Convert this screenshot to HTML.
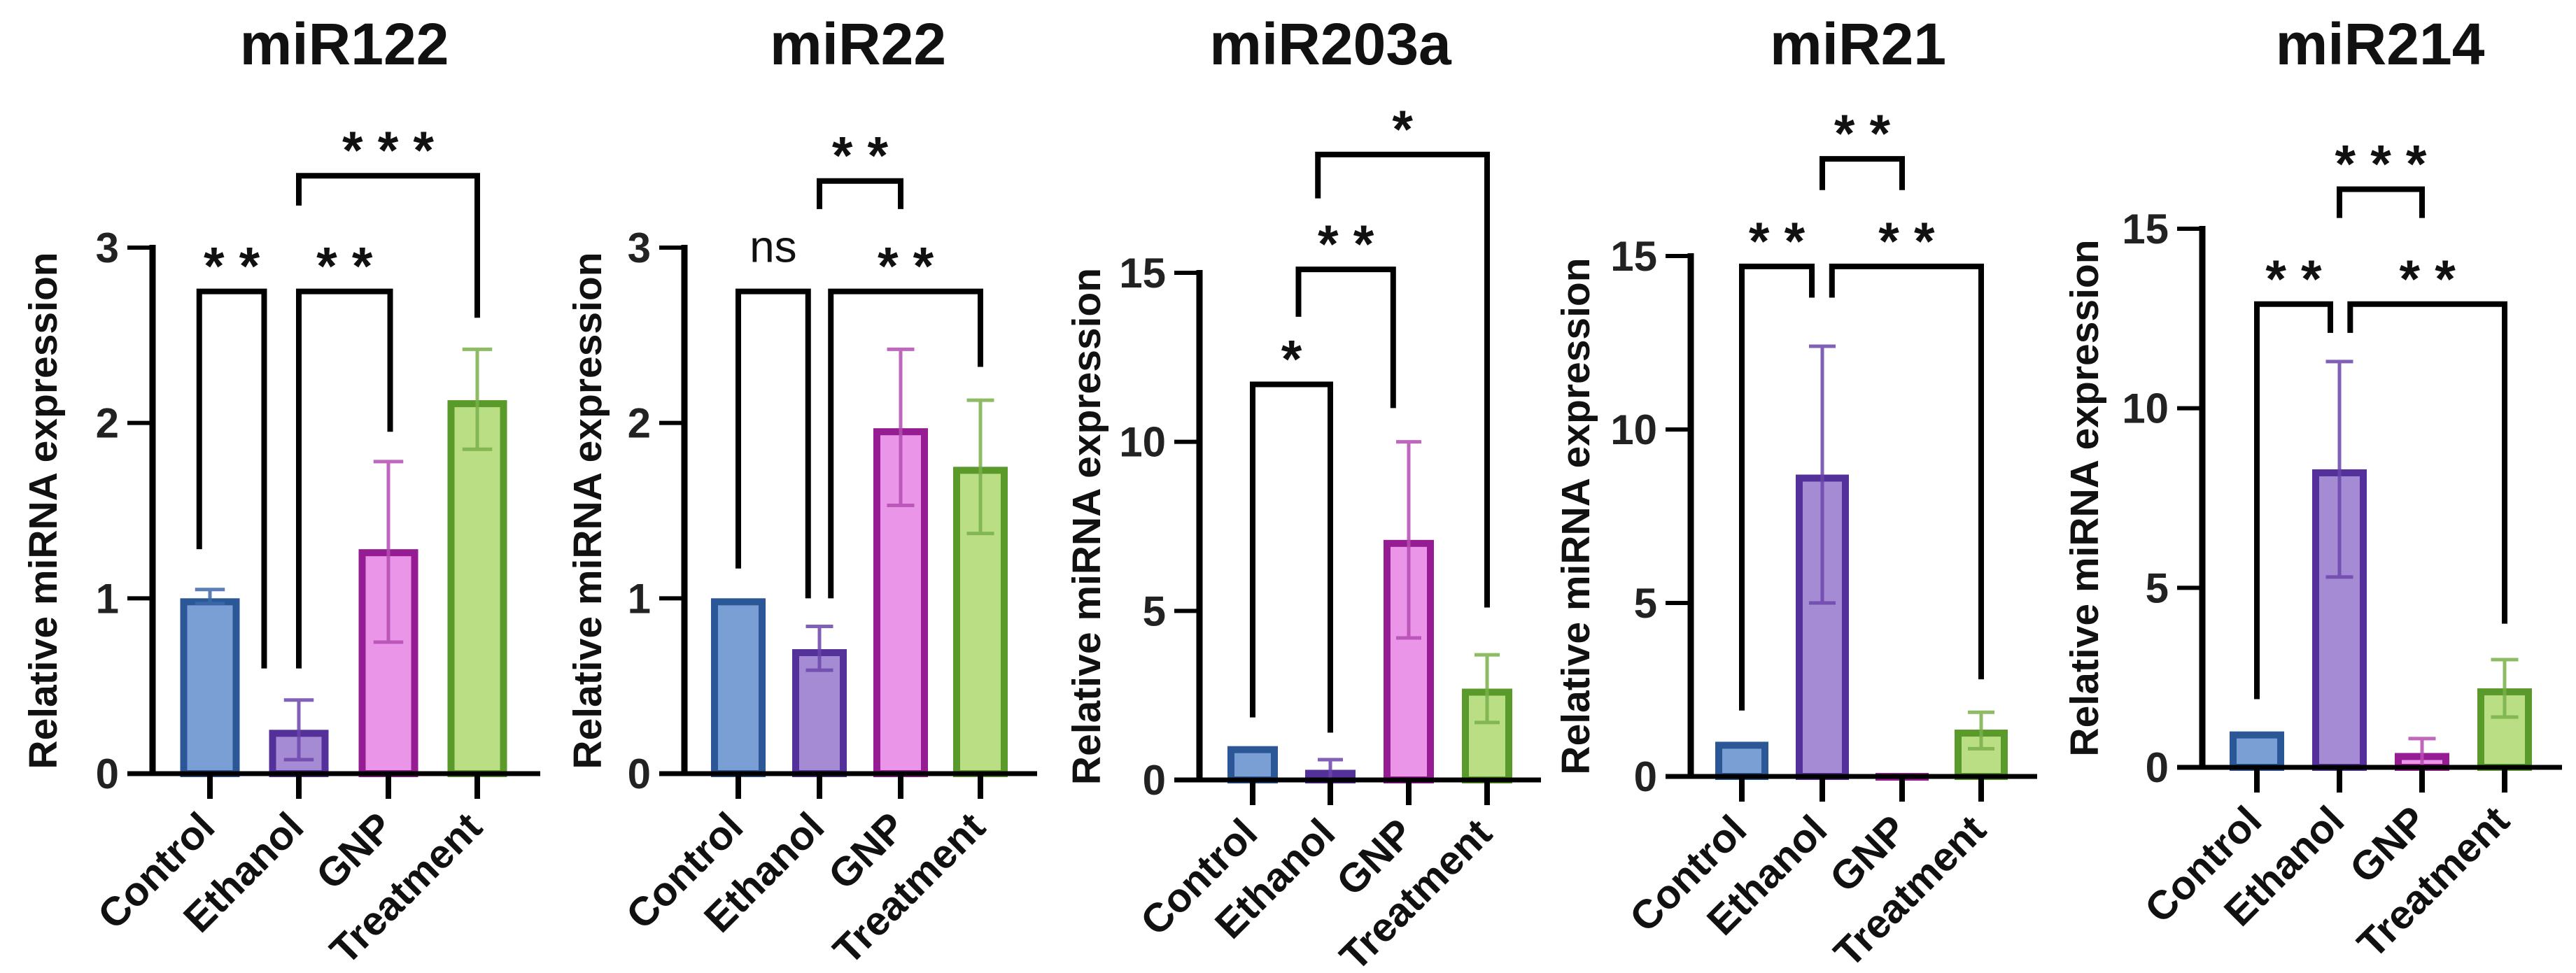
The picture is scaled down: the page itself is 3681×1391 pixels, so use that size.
<!DOCTYPE html>
<html><head><meta charset="utf-8">
<style>
html,body{margin:0;padding:0;background:#fff;}
svg{display:block;font-family:"Liberation Sans",Arial,sans-serif;}
</style></head>
<body>
<svg id="chart" width="3681" height="1391" viewBox="0 0 3681 1391" xmlns="http://www.w3.org/2000/svg"></svg>
<script>
// ---- data ----
const categories = ["Control","Ethanol","GNP","Treatment"];
const titles = ["miR122","miR22","miR203a","miR21","miR214"];
const yMaxes = [3,3,15,15,15];
const yTickSteps = [1,1,5,5,5];
const means122 = [1.0,0.25,1.28,2.13];
const errLo122 = [0.97,0.08,0.75,1.85];
const errHi122 = [1.05,0.42,1.78,2.42];
const means22 = [1.0,0.71,1.97,1.75];
const errLo22 = [1.0,0.59,1.53,1.37];
const errHi22 = [1.0,0.84,2.42,2.13];
const means203 = [1.0,0.3,7.1,2.7];
const errLo203 = [1.0,0.0,4.2,1.7];
const errHi203 = [1.0,0.6,10.0,3.7];
const means21 = [1.0,8.7,0.1,1.35];
const errLo21 = [1.0,5.0,0.1,0.8];
const errHi21 = [1.0,12.4,0.1,1.85];
const means214 = [1.0,8.3,0.4,2.2];
const errLo214 = [1.0,5.3,0.0,1.4];
const errHi214 = [1.0,11.3,0.8,3.0];
// brackets: [i, j, topValue, leftBottomValue, rightBottomValue, label]
const brackets122 = [[0,1,2.75,1.28,0.6,"* *"],[1,2,2.75,0.6,1.95,"* *"],[1,3,3.41,3.24,2.6,"* * *"]];
const brackets22 = [[0,1,2.75,1.17,1.0,"ns"],[1,3,2.75,1.0,2.32,"* *"],[1,2,3.38,3.22,3.22,"* *"]];
const brackets203 = [[0,1,11.7,1.85,1.4,"*"],[1,2,15.1,13.7,11.0,"* *"],[1,3,18.5,17.2,5.1,"*"]];
const brackets21 = [[0,1,14.7,1.9,13.8,"* *"],[1,3,14.7,13.8,2.8,"* *"],[1,2,17.8,16.9,16.9,"* *"]];
const brackets214 = [[0,1,12.9,1.9,12.1,"* *"],[1,3,12.9,12.1,4.0,"* *"],[1,2,16.1,15.3,15.3,"* * *"]];

// ---- layout (not data) ----
const panels = [
 {axisX:218,y0:1106,yTop:354,ticks:[300,427,555,682],xEnd:772,bw:85,ylabX:62,titleX:492,means:means122,lo:errLo122,hi:errHi122,br:brackets122,off:[[-0.12,-0.39],[0,0.02],[0,0]]},
 {axisX:978,y0:1106,yTop:354,ticks:[1055,1171,1287,1401],xEnd:1482,bw:78,ylabX:840,titleX:1226,means:means22,lo:errLo22,hi:errHi22,br:brackets22,off:[[0,-0.14],[0.14,0],[0,0]]},
 {axisX:1714,y0:1115,yTop:390,ticks:[1790,1901,2013,2125],xEnd:2202,bw:72,ylabX:1553,titleX:1901,means:means203,lo:errLo203,hi:errHi203,br:brackets203,off:[[0,0],[-0.41,-0.2],[-0.16,0]]},
 {axisX:2416,y0:1110,yTop:366,ticks:[2489,2604,2718,2831],xEnd:2911,bw:76,ylabX:2252,titleX:2655,means:means21,lo:errLo21,hi:errHi21,br:brackets21,off:[[0,-0.13],[0.12,0],[0,0]]},
 {axisX:3147,y0:1097,yTop:327,ticks:[3225,3343,3461,3579],xEnd:3661,bw:78,ylabX:2979,titleX:3401,means:means214,lo:errLo214,hi:errHi214,br:brackets214,off:[[0,-0.11],[0.13,0],[0,0]]}
];
const fills = ["#7a9fd5","#a58ad4","#ea95e8","#b9de84"];
const strokes = ["#2b5797","#54319a","#951c93","#599a2a"];
const errCols = ["#3d67a8","#6a45aa","#b44cb2","#79b04a"];

const NS="http://www.w3.org/2000/svg";
const svg=document.getElementById("chart");
function mk(tag,attrs,parent){const e=document.createElementNS(NS,tag);for(const k in attrs)e.setAttribute(k,attrs[k]);(parent||svg).appendChild(e);return e;}

panels.forEach((p,pi)=>{
  const g=mk("g",{});
  
  
  const yMax=yMaxes[pi];
  const yS=v=>p.y0-(v/yMax)*(p.y0-p.yTop);
  const xS=i=>p.ticks[i];
  const band=p.ticks[1]-p.ticks[0];
  const t=mk("text",{x:p.titleX,y:92,"text-anchor":"middle","font-size":84,"font-weight":"bold",fill:"#111"},g);
  t.textContent=titles[pi];
  
  
  const ycen=(p.y0+p.yTop)/2;
  const yl=mk("text",{x:p.ylabX,y:ycen,"text-anchor":"middle","dominant-baseline":"central","font-size":57,"font-weight":"bold",fill:"#111",transform:`rotate(-90 ${p.ylabX} ${ycen})`},g);
  yl.textContent="Relative miRNA expression";
  
  
  categories.forEach((c,i)=>{
    const x=xS(i), v=p.means[i], top=yS(v);
    const h=Math.max(p.y0-top,3);
    const r=mk("rect",{x:x-p.bw/2+5,y:p.y0-h+5,width:p.bw-10,height:Math.max(h-5,1),fill:fills[i],stroke:strokes[i],"stroke-width":10},g);
    
    
    const lo=yS(p.lo[i]), hi=yS(p.hi[i]);
    if(Math.abs(lo-hi)>2){
      const e=mk("path",{d:`M${x},${lo}L${x},${hi}M${x-p.bw*0.25},${hi}L${x+p.bw*0.25},${hi}M${x-p.bw*0.25},${lo}L${x+p.bw*0.25},${lo}`,stroke:errCols[i],"stroke-width":5,fill:"none","stroke-opacity":0.85},g);
      
      
    }
    const tk=mk("line",{x1:x,y1:p.y0,x2:x,y2:p.y0+36,stroke:"#000","stroke-width":8},g);
    
    
    const lx=x+10, ly=p.y0+80;
    const lb=mk("text",{x:lx,y:ly,"text-anchor":"end","font-size":58,"font-weight":"bold",fill:"#111",transform:`rotate(-45 ${lx} ${ly})`},g);
    lb.textContent=c;
    
    
  });
  const ax=mk("line",{x1:p.axisX,y1:p.y0,x2:p.axisX,y2:p.yTop-4,stroke:"#000","stroke-width":9},g);
  
  
  const xa=mk("line",{x1:p.axisX-36,y1:p.y0,x2:p.xEnd,y2:p.y0,stroke:"#000","stroke-width":7},g);
  
  
  for(let v=0;v<=yMax;v+=yTickSteps[pi]){
    const y=yS(v);
    const tl=mk("line",{x1:p.axisX-36,y1:y,x2:p.axisX,y2:y,stroke:"#000","stroke-width":6},g);
    
    
    const tt=mk("text",{x:p.axisX-48,y:y+21,"text-anchor":"end","font-size":60,"font-weight":"bold",fill:"#222"},g);
    tt.textContent=String(v);
    
    
  }
  p.br.forEach((b,bi)=>{
    const xl=xS(b[0])+p.off[bi][0]*band, xr=xS(b[1])+p.off[bi][1]*band;
    const yt=yS(b[2]);
    const pa=mk("path",{d:`M${xl},${yS(b[3])}L${xl},${yt}L${xr},${yt}L${xr},${yS(b[4])}`,stroke:"#000","stroke-width":8,fill:"none"},g);
    
    
    const isNs=b[5]==="ns";
    const st=mk("text",{x:(xl+xr)/2,y:isNs?yt-42:yt-10,"text-anchor":"middle","font-size":isNs?64:76,"font-weight":isNs?"normal":"bold",fill:"#111"},g);
    st.textContent=b[5];
    
    
  });
});
</script>
</body></html>
